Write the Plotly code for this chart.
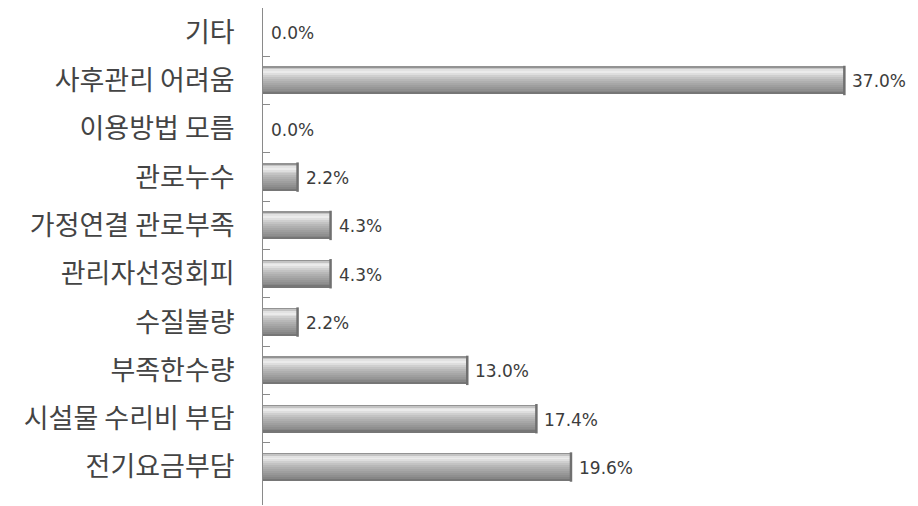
import plotly.graph_objects as go

# Reasons given (top to bottom) and their share in percent
categories = ["기타", "사후관리 어려움", "이용방법 모름", "관로누수", "가정연결 관로부족",
              "관리자선정회피", "수질불량", "부족한수량", "시설물 수리비 부담", "전기요금부담"]
values = [0.0, 37.0, 0.0, 2.2, 4.3, 4.3, 2.2, 13.0, 17.4, 19.6]
value_labels = [f"{v:.1f}%" for v in values]

# Shading of each bar: every band runs from its start fraction down to the
# bottom edge, so later bands paint over earlier ones without seams.
BAR_WIDTH = 0.58
band_stops = [
    (0.00, "#939393"),
    (0.05, "#c4c4c4"),
    (0.10, "#e2e2e2"),
    (0.16, "#ebebeb"),
    (0.23, "#dedede"),
    (0.30, "#cfcfcf"),
    (0.37, "#c3c3c3"),
    (0.44, "#b8b8b8"),
    (0.51, "#afafaf"),
    (0.58, "#a7a7a7"),
    (0.65, "#9f9f9f"),
    (0.72, "#979797"),
    (0.79, "#8f8f8f"),
    (0.86, "#868686"),
    (0.93, "#767676"),
]

fig = go.Figure()
for start, color in band_stops:
    fig.add_trace(go.Bar(
        y=categories, x=values, orientation="h",
        width=BAR_WIDTH * (1.0 - start),
        offset=-BAR_WIDTH / 2 + BAR_WIDTH * start,
        marker=dict(color=color, line=dict(width=0)),
        hoverinfo="skip", showlegend=False,
    ))

# darker cap on the right end of each non-empty bar
cap_x = [v for v in values if v > 0]
cap_y = [c for c, v in zip(categories, values) if v > 0]
fig.add_trace(go.Scatter(
    x=cap_x, y=cap_y, mode="markers",
    marker=dict(symbol="line-ns-open", size=21, color="#707070",
                line=dict(color="#707070", width=2.5)),
    hoverinfo="skip", showlegend=False, cliponaxis=False,
))

# value labels just to the right of the bars
for c, v, t in zip(categories, values, value_labels):
    fig.add_annotation(
        x=v, y=c, text=t, showarrow=False, xanchor="left", yanchor="middle",
        xshift=6, yshift=-1,
        font=dict(family="DejaVu Sans", size=17, color="#3c3c3c"),
    )

fig.update_layout(
    width=918, height=506,
    margin=dict(l=263, r=10, t=8, b=1),
    barmode="overlay", bargap=0,
    paper_bgcolor="white", plot_bgcolor="white",
    xaxis=dict(range=[0, 41.05], visible=False, fixedrange=True),
    yaxis=dict(
        type="category", autorange="reversed",
        showline=True, linecolor="#8a8a8a", linewidth=1,
        ticks="inside", tickson="boundaries", ticklen=7, tickcolor="#8a8a8a",
        ticklabelstandoff=22, showgrid=False, zeroline=False,
        tickfont=dict(family="Noto Sans CJK KR", size=27, color="#444444"),
    ),
)

fig.write_html("out.html")
